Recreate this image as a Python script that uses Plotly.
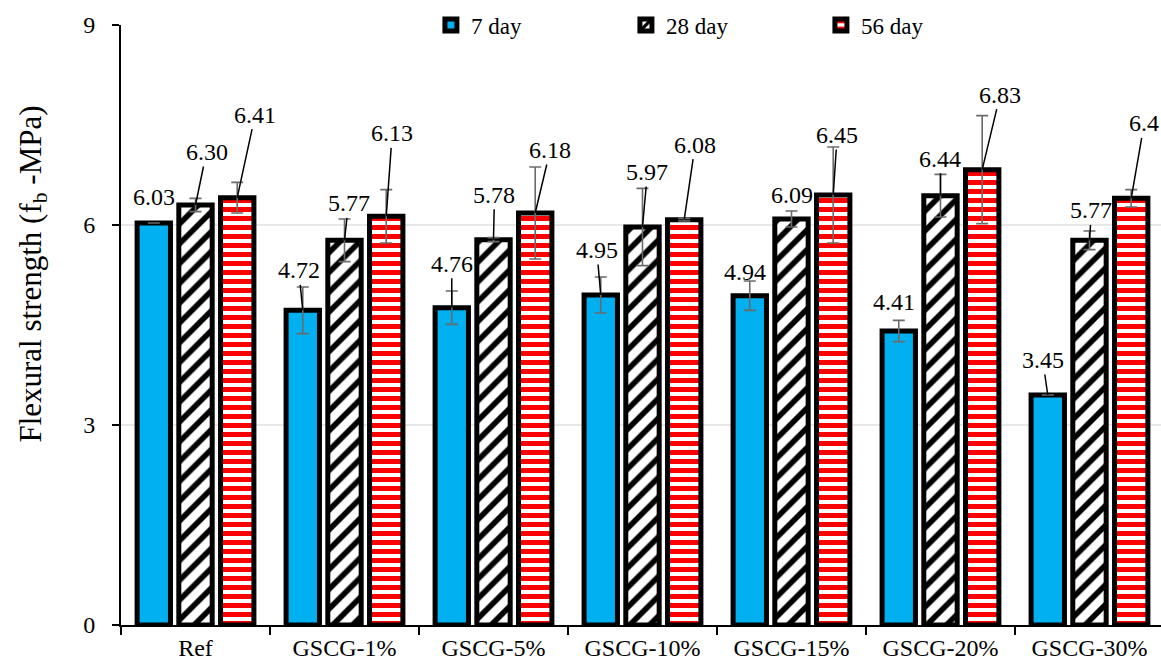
import plotly.graph_objects as go

# Mix designs and curing ages
categories = ["Ref", "GSCG-1%", "GSCG-5%", "GSCG-10%", "GSCG-15%", "GSCG-20%", "GSCG-30%"]
series_names = ["7 day", "28 day", "56 day"]

# Mean flexural strength (MPa)
day7 = [6.03, 4.72, 4.76, 4.95, 4.94, 4.41, 3.45]
day28 = [6.30, 5.77, 5.78, 5.97, 6.09, 6.44, 5.77]
day56 = [6.41, 6.13, 6.18, 6.08, 6.45, 6.83, 6.4]

# Printed value labels
labels7 = ["6.03", "4.72", "4.76", "4.95", "4.94", "4.41", "3.45"]
labels28 = ["6.30", "5.77", "5.78", "5.97", "6.09", "6.44", "5.77"]
labels56 = ["6.41", "6.13", "6.18", "6.08", "6.45", "6.83", "6.4"]

# Standard deviation (MPa)
err7 = [None, 0.35, 0.25, 0.27, 0.22, 0.16, None]
err28 = [0.10, 0.32, 0.03, 0.58, 0.12, 0.32, 0.14]
err56 = [0.23, 0.40, 0.69, 0.02, 0.72, 0.81, 0.13]

y_ticks = [0, 3, 6, 9]
y_title = "Flexural strength (f<sub>b</sub> -MPa)"

# Label placement: (dx px, dy px, draw leader line)
label_pos = [
    [(0, -26, False), (-4, -40, True), (0, -44, True), (-4, -45, True),
     (-5, -24, False), (-5, -29, False), (-5, -35, True)],
    [(11, -53, True), (4, -37, True), (1, -45, True), (5, -55, True),
     (1, -24, False), (0, -37, True), (2, -30, True)],
    [(18, -83, True), (6, -83, True), (15, -63, True), (11, -75, True),
     (4, -60, True), (18, -75, True), (13, -75, True)],
]

FONT = "Times New Roman, Liberation Serif, serif"
BARGAP = 0.16
slot = (1 - BARGAP) / 3

fills = [
    dict(color="#00b0f0"),
    dict(color="white", pattern=dict(shape="/", fgcolor="black", bgcolor="white",
                                     fgopacity=1, size=14, solidity=0.4)),
    dict(color="white", pattern=dict(shape="-", fgcolor="#ff0000", bgcolor="white",
                                     fgopacity=1, size=9, solidity=0.55)),
]

fig = go.Figure()
for name, vals, errs, fill in zip(series_names, [day7, day28, day56],
                                  [err7, err28, err56], fills):
    fig.add_trace(go.Bar(
        name=name, x=categories, y=vals,
        marker=dict(**fill, line=dict(color="black", width=5)),
        error_y=dict(type="data", array=errs, visible=True,
                     color="#6b6b6b", thickness=1.6, width=6),
    ))

# Value labels with leader lines
for k, (vals, texts) in enumerate(zip([day7, day28, day56], [labels7, labels28, labels56])):
    for i, v in enumerate(vals):
        dx, dy, leader = label_pos[k][i]
        fig.add_annotation(
            x=i + (k - 1) * slot, y=v, xref="x", yref="y",
            text=texts[i], showarrow=True, arrowhead=0, arrowwidth=1.5,
            arrowcolor="black" if leader else "rgba(0,0,0,0)",
            ax=dx, ay=dy, standoff=0,
            font=dict(family=FONT, size=24, color="black"),
        )

# Vertical axis title
fig.add_annotation(
    text=y_title, xref="paper", yref="paper", x=-0.085, y=0.585,
    xanchor="center", yanchor="middle", textangle=-90, showarrow=False,
    font=dict(family=FONT, size=31, color="black"),
)

fig.update_layout(
    width=1161, height=665,
    margin=dict(l=121, r=0, t=25, b=40),
    paper_bgcolor="white", plot_bgcolor="white",
    barmode="group", bargap=BARGAP, bargroupgap=0.2,
    font=dict(family=FONT, size=23, color="black"),
    legend=dict(orientation="h", x=0.298, xanchor="left", y=1.0, yanchor="middle",
                bgcolor="rgba(0,0,0,0)", font=dict(size=23), entrywidth=150,
                traceorder="normal"),
    xaxis=dict(type="category", range=[-0.5, 6.48], showline=True, linecolor="black",
               linewidth=2, ticks="outside", tickson="boundaries", ticklen=8,
               tickwidth=2, tickcolor="black", showgrid=False,
               tickfont=dict(size=24)),
    yaxis=dict(range=[0, 9], tickvals=y_ticks, showline=True, linecolor="black",
               linewidth=2, ticks="outside", ticklen=7, tickwidth=2, tickcolor="black",
               showgrid=True, gridcolor="#e8e8e8", gridwidth=1.5, zeroline=False,
               tickfont=dict(size=24), ticklabelstandoff=12),
)

fig.write_html("out.html")
